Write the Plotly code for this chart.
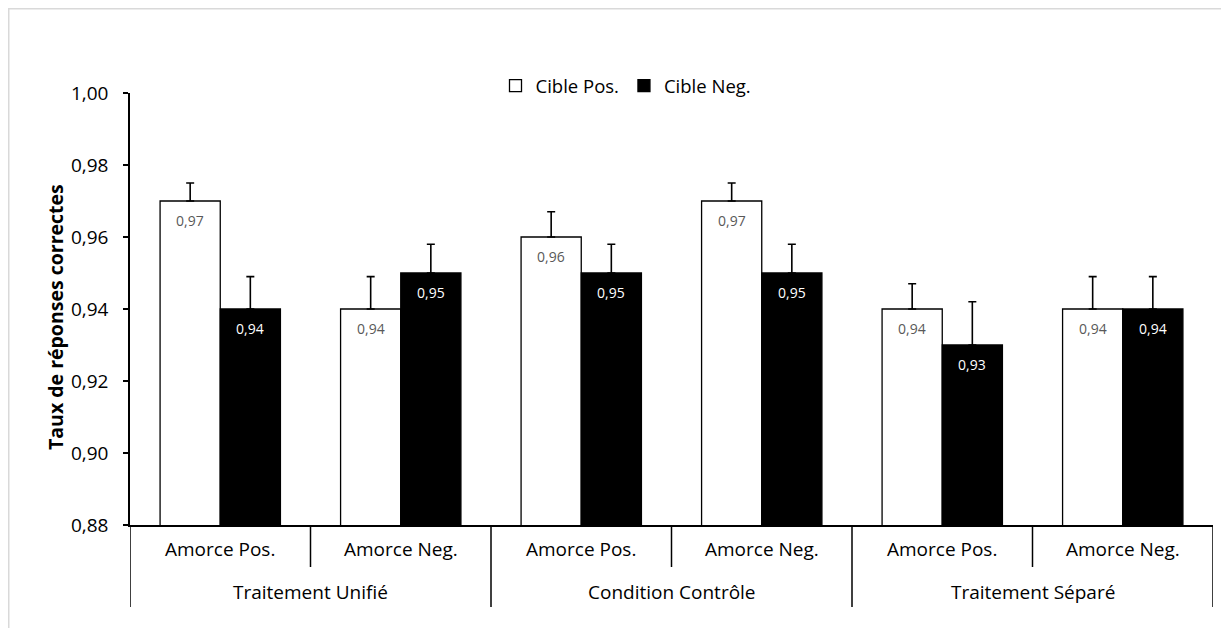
import plotly.graph_objects as go

# ---- data ----
groups = ["Traitement Unifié", "Condition Contrôle", "Traitement Séparé"]
primes = ["Amorce Pos.", "Amorce Neg."]
pos_vals = [0.97, 0.94, 0.96, 0.97, 0.94, 0.94]
neg_vals = [0.94, 0.95, 0.95, 0.95, 0.93, 0.94]
pos_err = [0.005, 0.009, 0.007, 0.005, 0.007, 0.009]
neg_err = [0.009, 0.008, 0.008, 0.008, 0.012, 0.009]
series_names = ["Cible Pos.", "Cible Neg."]
y_ticks = [0.88, 0.90, 0.92, 0.94, 0.96, 0.98, 1.00]

FONT = "'Open Sans', 'Noto Sans', sans-serif"
n = len(pos_vals)
xs = [i + 0.5 for i in range(n)]
zeros = [0] * n

# page body has an 8px default margin -> figure is 8px smaller and offset
OFF = 8
W, H = 1229 - OFF, 628 - OFF
PL, PR = 130 - OFF, 1213 - OFF      # plot area x (figure px)
PT, PB = 93 - OFF, 525 - OFF        # plot area y (figure px)
PW, PH = PR - PL, PB - PT


def px(xpix):   # screenshot px -> paper x
    return (xpix - OFF - PL) / PW


def py(ypix):   # screenshot px -> paper y
    return (PB - (ypix - OFF)) / PH


fig = go.Figure()
fig.add_trace(go.Bar(
    x=xs, y=pos_vals, name=series_names[0],
    marker=dict(color="white", line=dict(color="black", width=1.3)),
    error_y=dict(type="data", array=pos_err, arrayminus=zeros, symmetric=False,
                 color="black", thickness=1.6, width=4),
))
fig.add_trace(go.Bar(
    x=xs, y=neg_vals, name=series_names[1],
    marker=dict(color="black", line=dict(color="black", width=1.3)),
    error_y=dict(type="data", array=neg_err, arrayminus=zeros, symmetric=False,
                 color="black", thickness=1.6, width=4),
))

annotations = []
# value labels inside bars
for i, (p, q) in enumerate(zip(pos_vals, neg_vals)):
    annotations.append(dict(x=xs[i] - 1 / 6, y=p, xref="x", yref="y",
                            text=f"{p:.2f}".replace(".", ","), showarrow=False,
                            yshift=-19, font=dict(family=FONT, size=14, color="#595959")))
    annotations.append(dict(x=xs[i] + 1 / 6, y=q, xref="x", yref="y",
                            text=f"{q:.2f}".replace(".", ","), showarrow=False,
                            yshift=-19, font=dict(family=FONT, size=14, color="white")))

# hierarchical category labels
for i in range(n):
    annotations.append(dict(x=xs[i], y=py(549), xref="x", yref="paper",
                            xanchor="center", yanchor="middle",
                            text=primes[i % 2], showarrow=False,
                            font=dict(family=FONT, size=19, color="black")))
for g, name in enumerate(groups):
    annotations.append(dict(x=2 * g + 1, y=py(592), xref="x", yref="paper",
                            xanchor="center", yanchor="middle",
                            text=name, showarrow=False,
                            font=dict(family=FONT, size=19, color="black")))

# y-axis title
annotations.append(dict(x=px(55), y=py(317), xref="paper", yref="paper",
                        xanchor="center", yanchor="middle",
                        text="<b>Taux de réponses correctes</b>", textangle=-90, showarrow=False,
                        font=dict(family=FONT, size=19.5, color="black")))

shapes = []
for k in range(n + 1):
    yb = py(607) if k % 2 == 0 else py(567)
    shapes.append(dict(type="line", xref="x", yref="paper", x0=k, x1=k, y0=0, y1=yb,
                       line=dict(color="black", width=1.5)))
# chart area border (light gray)
shapes.append(dict(type="rect", xref="paper", yref="paper",
                   x0=px(8.5), x1=px(1260), y0=py(660), y1=py(8.5),
                   line=dict(color="#d9d9d9", width=2), fillcolor="rgba(0,0,0,0)", layer="below"))

fig.update_layout(
    width=W, height=H,
    margin=dict(l=PL, r=W - PR, t=PT, b=H - PB, pad=0),
    paper_bgcolor="white", plot_bgcolor="white",
    separators=", ",
    barmode="group", bargap=1 / 3, bargroupgap=0,
    font=dict(family=FONT, size=18, color="black"),
    showlegend=True,
    legend=dict(orientation="h", x=px(626), xanchor="center",
                y=py(86), yanchor="middle",
                font=dict(family=FONT, size=18.5, color="black"),
                bgcolor="rgba(0,0,0,0)", traceorder="normal"),
    xaxis=dict(range=[0, n], showticklabels=False, showgrid=False, zeroline=False,
               showline=True, linecolor="black", linewidth=1.5, ticks="", fixedrange=True),
    yaxis=dict(range=[0.88, 1.00], tickvals=y_ticks, tickformat=".2f",
               showgrid=False, zeroline=False, showline=True, linecolor="black", linewidth=1.5,
               ticks="outside", ticklen=5, tickwidth=1.5, tickcolor="black",
               ticklabelstandoff=11,
               tickfont=dict(family=FONT, size=19, color="black")),
    annotations=annotations,
    shapes=shapes,
)

fig.write_html("out.html")
